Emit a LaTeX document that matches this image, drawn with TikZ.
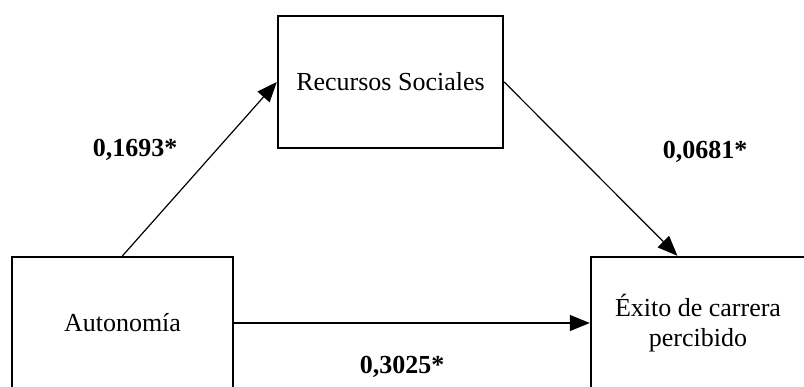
\documentclass[tikz,border=0pt]{standalone}
\usepackage{fontspec}
\setmainfont{Liberation Serif}
\usetikzlibrary{arrows.meta}
\begin{document}
\begin{tikzpicture}[x=1pt,y=-1pt,
  box/.style={draw, line width=2.4pt, rectangle, inner sep=0pt,
    font=\fontsize{26}{30}\selectfont, align=center},
  coef/.style={font=\fontsize{26}{30}\selectfont\bfseries, inner sep=0pt},
  path/.style={line width=1.2pt, -{Triangle[length=20pt,width=16pt]}}]
  \useasboundingbox (0,0) rectangle (804,386);
  \clip (0,0) rectangle (804,386);
  % variables
  \node[box, minimum width=221pt, minimum height=132pt] (auto) at (122.5,323) {Autonomía};
  \node[box, minimum width=225pt, minimum height=132pt] (recs) at (390.5,82) {Recursos Sociales};
  \node[box, minimum width=214pt, minimum height=132pt] (exito) at (698,323) {Éxito de carrera\\percibido};
  % paths
  \draw[path] (auto.north) -- (recs.west);
  \draw[path] (recs.east) -- (exito.107);
  \draw[path] (auto.east) -- (exito.west);
  % coefficients
  \node[coef] (c1) at (135,150) {0,1693*};
  \node[coef] (c2) at (705,152) {0,0681*};
  \node[coef] (c3) at (402,367) {0,3025*};
\end{tikzpicture}
\end{document}
